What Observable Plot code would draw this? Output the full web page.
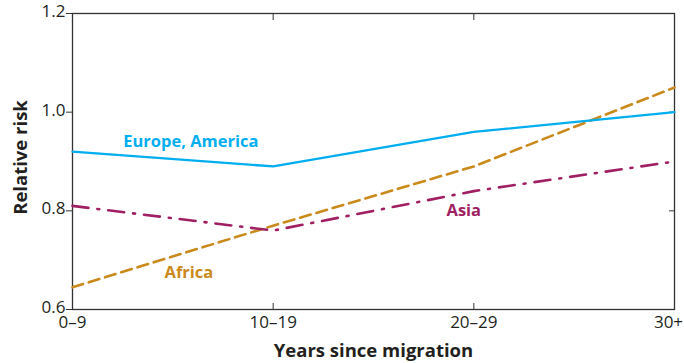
<!DOCTYPE html>
<html>
<head>
<meta charset="utf-8">
<script src="https://cdn.jsdelivr.net/npm/d3@7"></script>
<script src="https://cdn.jsdelivr.net/npm/@observablehq/plot@0.6"></script>
<style>
  body { margin: 0; background: #fff; }
  svg { font-family: "Open Sans", sans-serif; }
</style>
</head>
<body>
<div id="chart"></div>
<script>
// Years-since-migration groups (x axis categories)
const periods = ["0–9", "10–19", "20–29", "30+"];

// Relative risk by region of origin
const europeAmerica = [0.92, 0.89, 0.96, 1.00];
const asia = [0.81, 0.76, 0.84, 0.90];
const africa = [0.645, 0.77, 0.89, 1.05];

const yTicks = [0.6, 0.8, 1.0, 1.2];

// Series labels placed in data space (period index, relative risk)
const seriesLabels = [
  {name: "Europe, America", x: 0.59, y: 0.94, color: "#00aeef"},
  {name: "Asia", x: 1.95, y: 0.80, color: "#a01f62"},
  {name: "Africa", x: 0.58, y: 0.675, color: "#c98a1b"}
];

const toRows = (vals) => vals.map((v, i) => ({x: i, y: v}));
const ink = "#333";
const textInk = "#231f20";
const periodLabel = (i) => periods[i];

const chart = Plot.plot({
  width: 684,
  height: 363,
  marginLeft: 72,
  marginRight: 10,
  marginTop: 13,
  marginBottom: 54,
  style: {color: ink, background: "white"},
  x: {domain: [0, 3]},
  y: {domain: [0.6, 1.2]},
  marks: [
    Plot.frame({stroke: ink, strokeWidth: 1.3}),
    // left axis: outward ticks
    Plot.axisY({anchor: "left", ticks: yTicks, tickSize: 6, tickFormat: () => "", label: null, stroke: ink}),
    // left axis: labels, sitting slightly above their ticks
    Plot.axisY({anchor: "left", ticks: yTicks, tickFormat: ".1f", tickSize: 0, tickPadding: 7, dy: -2, fontSize: 17, fill: textInk, label: null}),
    // right axis: inward ticks only
    Plot.axisY({anchor: "right", ticks: [0.8, 1.0], tickSize: 6, dx: -6, tickFormat: () => "", label: null, stroke: ink}),
    // bottom axis: labels (last one nudged to stay inside the page)
    Plot.axisX({anchor: "bottom", ticks: [0, 1, 2], tickFormat: periodLabel, tickSize: 0, tickPadding: 6, fontSize: 17, fill: textInk, label: null}),
    Plot.axisX({anchor: "bottom", ticks: [3], tickFormat: periodLabel, tickSize: 0, tickPadding: 6, dx: -6, fontSize: 17, fill: textInk, label: null}),
    // bottom axis: inward ticks
    Plot.axisX({anchor: "bottom", ticks: [1, 2], tickSize: 6, dy: -6, tickFormat: () => "", label: null, stroke: ink}),
    // top axis: inward ticks
    Plot.axisX({anchor: "top", ticks: [1, 2], tickSize: 6, dy: 6, tickFormat: () => "", label: null, stroke: ink}),
    Plot.line(toRows(africa), {x: "x", y: "y", stroke: "#c98a1b", strokeWidth: 2.6, strokeDasharray: "11,6"}),
    Plot.line(toRows(asia), {x: "x", y: "y", stroke: "#a01f62", strokeWidth: 2.6, strokeDasharray: "16,9,2,9"}),
    Plot.line(toRows(europeAmerica), {x: "x", y: "y", stroke: "#00aeef", strokeWidth: 2.3}),
    Plot.text(seriesLabels, {x: "x", y: "y", text: "name", fill: "color", fontSize: 16.5, fontWeight: "bold"}),
    // axis titles
    Plot.text(["Years since migration"], {frameAnchor: "bottom", dy: 47, fontSize: 18.5, fontWeight: "bold", fill: textInk}),
    Plot.text(["Relative risk"], {frameAnchor: "left", textAnchor: "middle", dx: -51, dy: -4, rotate: -90, fontSize: 18.5, fontWeight: "bold", fill: textInk})
  ]
});

document.getElementById("chart").append(chart);
</script>
</body>
</html>
